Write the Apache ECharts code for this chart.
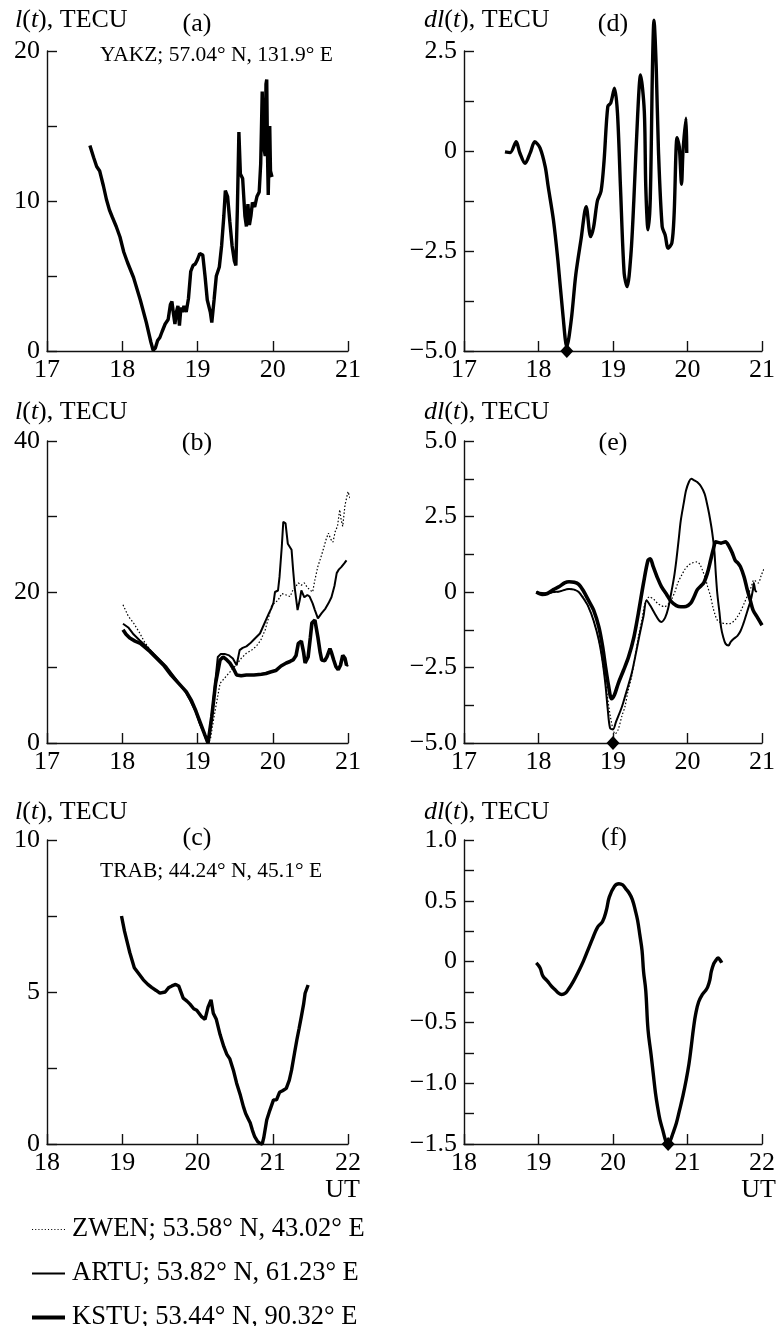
<!DOCTYPE html>
<html>
<head>
<meta charset="UTF-8">
<title>l(t), dl(t)</title>
<script src="https://cdn.jsdelivr.net/npm/echarts@6/dist/echarts.min.js"></script>
<style>html,body{margin:0;padding:0;background:#fff;}</style>
</head>
<body>
<div id="main" style="width:778px;height:1326px;"></div>
<script>
// (a) YAKZ, l(t)
var aT = [17.57,17.62,17.66,17.70,17.75,17.79,17.83,17.87,17.92,17.97,18.02,18.07,18.15,18.24,18.32,18.38,18.41,18.44,18.47,18.50,18.53,18.57,18.61,18.64,18.66,18.68,18.70,18.72,18.74,18.76,18.78,18.80,18.82,18.85,18.88,18.91,18.94,18.97,19.00,19.03,19.07,19.10,19.13,19.17,19.19,19.22,19.25,19.29,19.32,19.35,19.37,19.40,19.43,19.46,19.49,19.51,19.53,19.55,19.57,19.60,19.63,19.65,19.67,19.69,19.71,19.73,19.76,19.79,19.82,19.84,19.86,19.88,19.90,19.91,19.92,19.93,19.94,19.96,19.97,19.99];
var aL = [13.7,12.9,12.3,12.0,11.0,10.1,9.4,8.9,8.3,7.6,6.6,5.9,4.9,3.4,1.9,0.6,0.05,0.2,0.7,0.9,1.3,1.8,2.1,3.1,3.3,2.5,1.8,2.6,3.0,1.7,2.9,2.6,3.0,2.6,3.5,5.3,5.7,5.8,6.1,6.5,6.4,5.0,3.4,2.6,1.9,3.4,5.0,5.6,7.0,9.0,10.7,10.3,8.6,7.0,6.0,5.7,9.5,14.6,11.8,11.5,9.0,8.3,9.8,8.4,9.0,9.9,9.6,10.3,10.6,12.5,17.3,13.6,13.0,17.8,18.1,13.2,10.4,15.0,12.0,11.6];

// (d) YAKZ, dl(t)
var dT = [17.55,17.62,17.70,17.75,17.82,17.89,17.95,18.02,18.09,18.13,18.20,18.26,18.33,18.38,18.44,18.50,18.57,18.64,18.70,18.74,18.79,18.84,18.88,18.93,18.97,19.02,19.06,19.10,19.15,19.19,19.24,19.28,19.33,19.37,19.42,19.44,19.47,19.50,19.53,19.55,19.58,19.61,19.66,19.70,19.74,19.79,19.82,19.86,19.89,19.92,19.94,19.98,19.99];
var dL = [-0.02,-0.04,0.23,-0.05,-0.31,-0.04,0.23,0.08,-0.39,-0.89,-1.72,-2.73,-4.14,-4.9,-4.22,-3.1,-2.22,-1.39,-2.14,-1.9,-1.25,-1.0,-0.25,1.11,1.2,1.57,0.95,-0.89,-3.06,-3.39,-2.6,-1.22,0.86,1.9,1.0,-0.89,-1.97,-1.22,2.11,3.27,2.11,0.02,-1.89,-2.1,-2.43,-2.3,-1.6,0.33,0.1,-0.83,0.0,0.82,-0.05];
var dMin = [[18.38, -5.0]];

// (b) l(t): ZWEN, ARTU, KSTU
var bZwenT = [18.01,18.08,18.15,18.23,18.30,18.40,18.55,18.70,18.80,18.90,18.96,19.01,19.07,19.12,19.17,19.22,19.30,19.36,19.43,19.52,19.58,19.65,19.72,19.78,19.84,19.90,19.95,19.98,20.03,20.07,20.12,20.18,20.23,20.27,20.31,20.34,20.38,20.42,20.46,20.49,20.53,20.56,20.60,20.64,20.67,20.71,20.74,20.77,20.80,20.83,20.86,20.89,20.91,20.93,20.96,21.00,21.04,21.07,21.09];
var bZwenL = [18.3,16.8,15.9,14.6,13.3,12.0,10.4,8.4,7.3,6.1,4.8,3.0,1.5,0.2,0.4,3.5,7.9,8.6,9.4,10.4,11.2,11.9,12.3,12.8,13.6,15.0,16.8,18.1,18.6,18.9,19.8,19.6,19.4,20.3,20.8,21.2,20.9,21.2,20.6,20.3,20.0,21.6,23.4,24.6,25.6,27.0,27.8,27.0,26.6,28.0,28.7,30.9,29.5,28.7,31.5,33.3,32.0,30.5,29.5];
var bArtuT = [18.01,18.08,18.15,18.23,18.32,18.40,18.48,18.59,18.68,18.77,18.85,18.90,18.97,19.03,19.09,19.14,19.20,19.24,19.27,19.31,19.36,19.42,19.47,19.52,19.56,19.60,19.65,19.70,19.74,19.78,19.83,19.87,19.91,19.95,19.98,20.01,20.03,20.07,20.09,20.12,20.14,20.17,20.20,20.25,20.27,20.29,20.33,20.36,20.38,20.42,20.46,20.49,20.53,20.56,20.60,20.65,20.70,20.74,20.78,20.82,20.85,20.88,20.91,20.95,20.98];
var bArtuL = [15.8,15.3,14.4,13.6,12.8,12.0,11.2,10.1,8.9,7.7,6.6,5.7,4.3,2.6,1.2,0.0,4.6,8.5,11.4,11.8,11.8,11.6,11.2,10.3,12.3,12.6,12.8,13.2,13.6,14.0,14.5,15.4,16.3,17.2,17.8,18.6,20.0,20.2,22.0,26.0,29.3,29.1,26.4,25.6,23.0,20.7,17.6,19.0,20.2,19.3,19.6,19.4,18.5,17.6,16.5,17.2,17.8,18.5,19.3,20.8,22.5,23.0,23.3,23.8,24.2];
var bKstuT = [18.01,18.05,18.10,18.17,18.24,18.30,18.37,18.45,18.55,18.65,18.75,18.85,18.92,18.98,19.04,19.10,19.14,19.19,19.24,19.30,19.34,19.39,19.43,19.48,19.52,19.58,19.65,19.75,19.85,19.91,19.97,20.04,20.11,20.18,20.23,20.27,20.31,20.34,20.38,20.41,20.43,20.47,20.50,20.52,20.56,20.60,20.63,20.65,20.69,20.72,20.76,20.78,20.81,20.84,20.87,20.90,20.93,20.96,20.98,21.00];
var bKstuL = [15.0,14.4,13.9,13.5,13.2,12.7,12.1,11.3,10.3,9.0,7.9,6.8,5.6,4.2,2.6,1.0,0.0,3.5,7.9,11.0,11.4,11.0,10.6,9.8,9.0,8.9,9.0,9.0,9.1,9.2,9.4,9.6,10.2,10.6,10.8,11.0,11.6,13.2,13.5,12.0,10.6,11.4,14.0,15.9,16.3,14.0,12.0,11.0,10.9,11.4,12.5,12.0,11.0,10.1,9.7,10.3,11.6,11.2,10.3,10.4];

// (e) dl(t): ZWEN, ARTU, KSTU
var eZwenT = [17.97,18.10,18.28,18.41,18.54,18.67,18.81,18.90,18.97,19.03,19.07,19.12,19.16,19.20,19.25,19.30,19.34,19.39,19.43,19.49,19.55,19.60,19.65,19.69,19.74,19.78,19.83,19.87,19.92,19.96,20.01,20.05,20.13,20.17,20.20,20.24,20.27,20.31,20.34,20.37,20.40,20.45,20.49,20.54,20.58,20.63,20.67,20.72,20.76,20.80,20.82,20.86,20.89,20.92,20.95,20.99,21.02,21.04,21.06,21.08];
var eZwenL = [0.0,-0.05,0.02,0.1,0.0,-0.49,-1.6,-3.0,-4.2,-4.7,-4.55,-4.1,-3.8,-3.3,-2.8,-2.1,-1.5,-0.9,-0.38,-0.16,-0.25,-0.38,-0.45,-0.49,-0.4,-0.27,0.0,0.3,0.55,0.73,0.88,0.95,1.0,0.9,0.73,0.45,0.18,-0.15,-0.49,-0.75,-0.93,-1.02,-1.04,-1.05,-1.04,-0.95,-0.82,-0.6,-0.38,-0.15,-0.05,0.2,0.4,0.35,0.3,0.55,0.73,0.78,0.4,0.0];
var eArtuT = [17.97,18.10,18.20,18.28,18.41,18.48,18.54,18.60,18.67,18.74,18.81,18.86,18.90,18.93,18.96,19.00,19.04,19.12,19.18,19.25,19.31,19.36,19.41,19.45,19.50,19.56,19.62,19.65,19.70,19.74,19.78,19.82,19.85,19.88,19.91,19.95,19.98,20.02,20.05,20.09,20.13,20.18,20.23,20.26,20.29,20.33,20.36,20.38,20.40,20.43,20.45,20.48,20.51,20.55,20.58,20.62,20.67,20.71,20.75,20.78,20.82,20.85,20.88,20.89,20.91,20.93];
var eArtuL = [0.0,-0.05,0.0,0.02,0.1,0.08,0.0,-0.2,-0.49,-0.95,-1.6,-2.3,-3.1,-3.9,-4.5,-4.55,-4.3,-3.8,-3.3,-2.7,-2.0,-1.38,-0.8,-0.27,-0.45,-0.71,-0.95,-0.99,-0.85,-0.55,-0.05,0.5,1.05,1.7,2.37,2.95,3.36,3.65,3.75,3.7,3.64,3.5,3.25,2.95,2.59,2.0,1.38,0.6,-0.05,-0.7,-1.16,-1.5,-1.71,-1.77,-1.65,-1.55,-1.45,-1.3,-1.05,-0.82,-0.5,-0.27,0.1,0.3,0.05,0.0];
var eKstuT = [17.97,18.05,18.12,18.20,18.28,18.35,18.41,18.48,18.54,18.60,18.67,18.74,18.81,18.86,18.90,18.94,18.98,19.02,19.07,19.14,19.21,19.28,19.34,19.41,19.47,19.50,19.54,19.60,19.65,19.72,19.78,19.85,19.91,19.98,20.04,20.09,20.13,20.18,20.22,20.27,20.31,20.35,20.38,20.45,20.51,20.56,20.60,20.64,20.68,20.71,20.76,20.80,20.84,20.88,20.94,21.00];
var eKstuL = [0.0,-0.08,-0.05,0.08,0.18,0.3,0.34,0.32,0.25,0.05,-0.27,-0.6,-1.16,-1.8,-2.48,-3.1,-3.53,-3.4,-3.03,-2.6,-2.14,-1.5,-0.71,0.3,1.05,1.1,0.84,0.45,0.18,-0.08,-0.31,-0.45,-0.49,-0.48,-0.38,-0.15,0.07,0.2,0.31,0.65,1.05,1.45,1.66,1.62,1.66,1.5,1.3,1.05,0.95,0.84,0.5,0.1,-0.25,-0.6,-0.85,-1.1];
var eMin = [[19.0, -5.0]];

// (c) TRAB, l(t)
var cT = [18.99,19.03,19.07,19.10,19.16,19.22,19.28,19.34,19.39,19.45,19.50,19.57,19.62,19.66,19.71,19.75,19.81,19.86,19.90,19.95,19.99,20.05,20.10,20.14,20.18,20.21,20.25,20.30,20.35,20.39,20.43,20.48,20.52,20.57,20.61,20.64,20.67,20.70,20.73,20.76,20.80,20.83,20.86,20.88,20.92,20.96,21.01,21.05,21.09,21.13,21.18,21.22,21.25,21.29,21.32,21.35,21.38,21.41,21.43,21.47];
var cL = [7.5,7.0,6.6,6.3,5.8,5.6,5.4,5.25,5.15,5.05,4.96,5.0,5.15,5.2,5.25,5.2,4.8,4.7,4.6,4.45,4.4,4.2,4.1,4.5,4.74,4.3,4.1,3.6,3.2,2.95,2.8,2.4,2.0,1.6,1.23,1.0,0.85,0.7,0.45,0.24,0.08,0.02,0.0,0.2,0.79,1.1,1.45,1.45,1.7,1.75,1.83,2.1,2.43,3.0,3.42,3.8,4.19,4.6,4.96,5.23];

// (f) TRAB, dl(t)
var fT = [18.97,19.02,19.06,19.12,19.17,19.22,19.27,19.31,19.36,19.40,19.47,19.53,19.60,19.66,19.72,19.79,19.86,19.91,19.95,20.02,20.08,20.13,20.17,20.22,20.26,20.30,20.33,20.36,20.39,20.41,20.44,20.47,20.51,20.54,20.57,20.60,20.63,20.67,20.70,20.73,20.77,20.80,20.85,20.89,20.94,20.98,21.02,21.05,21.08,21.11,21.15,21.20,21.24,21.27,21.30,21.32,21.35,21.37,21.41,21.44,21.46];
var fL = [-0.01,-0.05,-0.12,-0.16,-0.2,-0.23,-0.26,-0.27,-0.26,-0.23,-0.16,-0.09,0.0,0.09,0.18,0.28,0.33,0.42,0.53,0.62,0.64,0.63,0.6,0.56,0.51,0.42,0.34,0.22,0.09,-0.08,-0.24,-0.56,-0.76,-0.92,-1.08,-1.2,-1.3,-1.39,-1.46,-1.5,-1.47,-1.42,-1.33,-1.23,-1.1,-0.98,-0.84,-0.7,-0.55,-0.43,-0.33,-0.27,-0.24,-0.21,-0.15,-0.08,-0.02,0.0,0.03,0.01,-0.01];
var fMin = [[20.74, -1.5]];

var ZWEN = 'ZWEN; 53.58° N, 43.02° E';
var ARTU = 'ARTU; 53.82° N, 61.23° E';
var KSTU = 'KSTU; 53.44° N, 90.32° E';

var FONT = 'Liberation Serif';
var FS = 26;
var DOTS = 'path://M0,0h1v1h-1zM3,0h1v1h-1zM6,0h1v1h-1zM9,0h1v1h-1zM12,0h1v1h-1zM15,0h1v1h-1zM18,0h1v1h-1zM21,0h1v1h-1zM24,0h1v1h-1zM27,0h1v1h-1zM30,0h1v1h-1z';

function pairs(t, v) {
    return t.map(function (x, i) { return [x, v[i]]; });
}

// only every second tick gets a label
function lab(step, dec) {
    return function (v) {
        var k = v / step;
        if (Math.abs(k - Math.round(k)) > 1e-6) return '';
        if (Math.abs(v) < 1e-9) return '0';
        var s = Math.abs(v).toFixed(dec);
        return v < 0 ? '\u2212' + s : s;
    };
}

var axLine = {show: true, onZero: false, lineStyle: {color: '#111', width: 1.4}};
var axTick = {inside: true, length: 10, lineStyle: {color: '#111', width: 1.4}};

function xAx(g, min) {
    return {
        gridIndex: g, type: 'value', min: min, max: min + 4, interval: 1,
        axisLine: axLine, axisTick: axTick, splitLine: {show: false},
        axisLabel: {color: '#000', fontSize: FS, fontFamily: FONT, margin: 6}
    };
}
function yAx(g, min, max, iv, step, dec) {
    return {
        gridIndex: g, type: 'value', min: min, max: max, interval: iv,
        axisLine: axLine, axisTick: axTick, splitLine: {show: false},
        axisLabel: {color: '#000', fontSize: FS, fontFamily: FONT, margin: 7, formatter: lab(step, dec)}
    };
}
function line(name, g, data, width, extra) {
    var s = {
        name: name, type: 'line', xAxisIndex: g, yAxisIndex: g, data: data,
        symbol: 'none', clip: false, silent: true,
        itemStyle: {color: '#000'},
        lineStyle: {color: '#000', width: width}
    };
    for (var k in extra) s[k] = extra[k];
    return s;
}
function diamond(g, data) {
    return {
        type: 'scatter', xAxisIndex: g, yAxisIndex: g, data: data, clip: false, silent: true,
        symbol: 'diamond', symbolSize: [13, 14], itemStyle: {color: '#000', opacity: 1}, z: 5
    };
}
function txt(x, y, text, size, align) {
    return {
        type: 'text', x: x, y: y, silent: true,
        style: {
            text: text, fill: '#000', fontSize: size, fontFamily: FONT,
            align: align, textAlign: align, verticalAlign: 'middle', textVerticalAlign: 'middle',
            rich: {i: {fontStyle: 'italic', fontSize: size, fontFamily: FONT, fill: '#000'}}
        }
    };
}
// one legend row per station, so each sample can have its own thickness
function legendRow(name, top, icon, h) {
    return {
        left: 32, top: top, padding: 0, selectedMode: false,
        itemWidth: 33, itemHeight: h, itemGap: 0,
        textStyle: {color: '#000', fontSize: 26.5, fontFamily: FONT, padding: [0, 0, 0, 2]},
        data: [{name: name, icon: icon, itemStyle: {color: '#000', borderWidth: 0}}]
    };
}

var chart = echarts.init(document.getElementById('main'), null, {renderer: 'canvas'});

var option = {
    animation: false,
    backgroundColor: '#fff',
    grid: [
        {left: 47, top: 51, width: 301, height: 300},
        {left: 464, top: 51, width: 301, height: 300},
        {left: 47, top: 441, width: 301, height: 302},
        {left: 464, top: 441, width: 301, height: 302},
        {left: 47, top: 840, width: 301, height: 304},
        {left: 464, top: 840, width: 301, height: 304}
    ],
    xAxis: [xAx(0, 17), xAx(1, 17), xAx(2, 17), xAx(3, 17), xAx(4, 18), xAx(5, 18)],
    yAxis: [
        yAx(0, 0, 20, 5, 10, 0),
        yAx(1, -5, 2.5, 1.25, 2.5, 1),
        yAx(2, 0, 40, 10, 20, 0),
        yAx(3, -5, 5, 1.25, 2.5, 1),
        yAx(4, 0, 10, 2.5, 5, 0),
        yAx(5, -1.5, 1, 0.25, 0.5, 1)
    ],
    legend: [
        legendRow(ZWEN, 1216, DOTS, 1.3),
        legendRow(ARTU, 1260, 'rect', 2),
        legendRow(KSTU, 1304, 'rect', 4)
    ],
    graphic: [
        txt(15, 20, '{i|l}({i|t}), TECU', FS, 'left'),
        txt(424, 20, '{i|dl}({i|t}), TECU', FS, 'left'),
        txt(15, 412, '{i|l}({i|t}), TECU', FS, 'left'),
        txt(424, 412, '{i|dl}({i|t}), TECU', FS, 'left'),
        txt(15, 812, '{i|l}({i|t}), TECU', FS, 'left'),
        txt(424, 812, '{i|dl}({i|t}), TECU', FS, 'left'),
        txt(197, 24, '(a)', FS, 'center'),
        txt(613, 24, '(d)', FS, 'center'),
        txt(197, 443, '(b)', FS, 'center'),
        txt(613, 443, '(e)', FS, 'center'),
        txt(197, 838, '(c)', FS, 'center'),
        txt(614, 838, '(f)', FS, 'center'),
        txt(100, 55, 'YAKZ; 57.04° N, 131.9° E', 21.5, 'left'),
        txt(100, 871, 'TRAB; 44.24° N, 45.1° E', 21.5, 'left'),
        txt(360, 1190, 'UT', FS, 'right'),
        txt(776, 1190, 'UT', FS, 'right')
    ],
    series: [
        line('YAKZ l', 0, pairs(aT, aL), 3.4),
        line('YAKZ dl', 1, pairs(dT, dL), 3.4, {smooth: 0.3}),
        diamond(1, dMin),
        line(ZWEN, 2, pairs(bZwenT, bZwenL), 1.2, {lineStyle: {color: '#000', width: 1.2, type: [1.5, 2]}}),
        line(ARTU, 2, pairs(bArtuT, bArtuL), 2),
        line(KSTU, 2, pairs(bKstuT, bKstuL), 3.6),
        line(ZWEN, 3, pairs(eZwenT, eZwenL), 1.2, {smooth: 0.3, lineStyle: {color: '#000', width: 1.2, type: [1.5, 2]}}),
        line(ARTU, 3, pairs(eArtuT, eArtuL), 2, {smooth: 0.3}),
        line(KSTU, 3, pairs(eKstuT, eKstuL), 3.6, {smooth: 0.3}),
        diamond(3, eMin),
        line('TRAB l', 4, pairs(cT, cL), 3.4),
        line('TRAB dl', 5, pairs(fT, fL), 3.4, {smooth: 0.4}),
        diamond(5, fMin)
    ]
};

chart.setOption(option);
</script>
</body>
</html>
